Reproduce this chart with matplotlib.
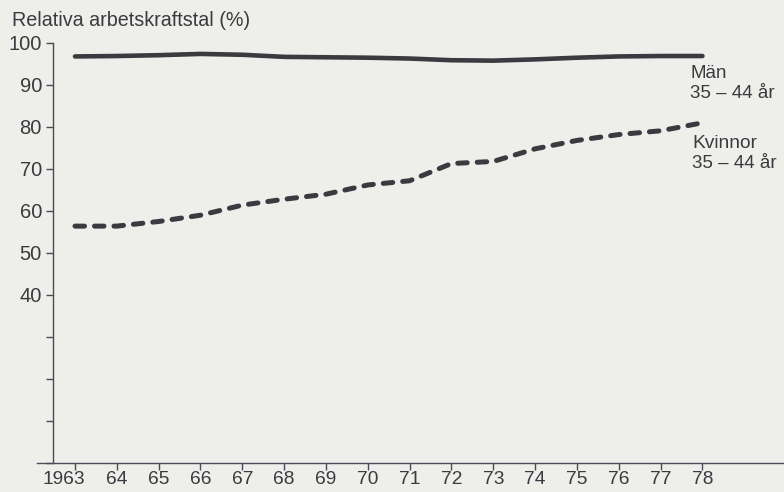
import matplotlib
matplotlib.use("Agg")
import matplotlib.pyplot as plt
from matplotlib.transforms import ScaledTranslation
from matplotlib.lines import Line2D

years = [1963, 1964, 1965, 1966, 1967, 1968, 1969, 1970,
         1971, 1972, 1973, 1974, 1975, 1976, 1977, 1978]
year_labels = ["1963", "64", "65", "66", "67", "68", "69", "70",
               "71", "72", "73", "74", "75", "76", "77", "78"]
man = [96.8, 96.9, 97.1, 97.4, 97.2, 96.7, 96.6, 96.5,
       96.3, 95.9, 95.8, 96.1, 96.5, 96.8, 96.9, 96.9]
kvinnor = [56.4, 56.4, 57.5, 59.0, 61.4, 62.8, 64.0, 66.2,
           67.2, 71.3, 71.8, 74.8, 76.8, 78.2, 79.1, 81.0]
y_ticks = [0, 10, 20, 30, 40, 50, 60, 70, 80, 90, 100]
y_labels = ["", "", "", "", "40", "50", "60", "70", "80", "90", "100"]

BG = "#eeeeea"
INK = "#3b3a40"
AX = "#4a4a58"
plt.rcParams["font.family"] = ["Liberation Sans", "DejaVu Sans"]

W, H = 784, 492
fig = plt.figure(figsize=(W / 100, H / 100), dpi=100, facecolor=BG)
left, right, bottom, top = 53, 784, 463, 43
ax = fig.add_axes([left / W, 1 - bottom / H, (right - left) / W, (bottom - top) / H])
ax.set_facecolor(BG)

px_per_year = 41.83
x0 = 1963 - (75 - left) / px_per_year
x1 = 1963 + (right - 75) / px_per_year
ax.set_xlim(x0, x1)
ax.set_ylim(0, 100)

ax.plot(years, man, color=INK, lw=3.3, solid_capstyle="round", solid_joinstyle="round")
ax.plot(years, kvinnor, color=INK, lw=3.6, dashes=(1.9, 2.0), dash_capstyle="round")

for s in ["top", "right"]:
    ax.spines[s].set_visible(False)
ax.spines["left"].set_color(AX)
ax.spines["left"].set_linewidth(1.0)
ax.spines["bottom"].set_visible(False)
# baseline extending a bit left of the y axis
ax.add_line(Line2D([(37 - left) / (right - left), 1.0], [0, 0], transform=ax.transAxes,
                   color=AX, lw=1.0, clip_on=False))

ax.set_yticks(y_ticks)
ax.set_yticklabels(y_labels)
ax.set_xticks(years)
ax.set_xticklabels(year_labels)
ax.tick_params(axis="y", direction="out", length=5, width=1.0, color=AX, pad=3,
               labelsize=14.5, labelcolor=INK)
ax.tick_params(axis="x", direction="out", length=5, width=1.0, color=AX, pad=0.5,
               labelsize=13.8, labelcolor=INK)
fl = ax.get_xticklabels()[0]
fl.set_transform(fl.get_transform() + ScaledTranslation(-0.11, 0, fig.dpi_scale_trans))

fig.text(12 / W, 1 - 20 / H, "Relativa arbetskraftstal (%)", fontsize=14.2, color=INK,
         ha="left", va="center")
fig.text(690 / W, 1 - 73 / H, "Män", fontsize=13.5, color=INK, ha="left", va="center")
fig.text(690 / W, 1 - 93 / H, "35 – 44 år", fontsize=13.5, color=INK, ha="left", va="center")
fig.text(692 / W, 1 - 143 / H, "Kvinnor", fontsize=13.8, color=INK, ha="left", va="center")
fig.text(692 / W, 1 - 163 / H, "35 – 44 år", fontsize=13.5, color=INK, ha="left", va="center")

fig.savefig("out.png", dpi=100, facecolor=BG)
